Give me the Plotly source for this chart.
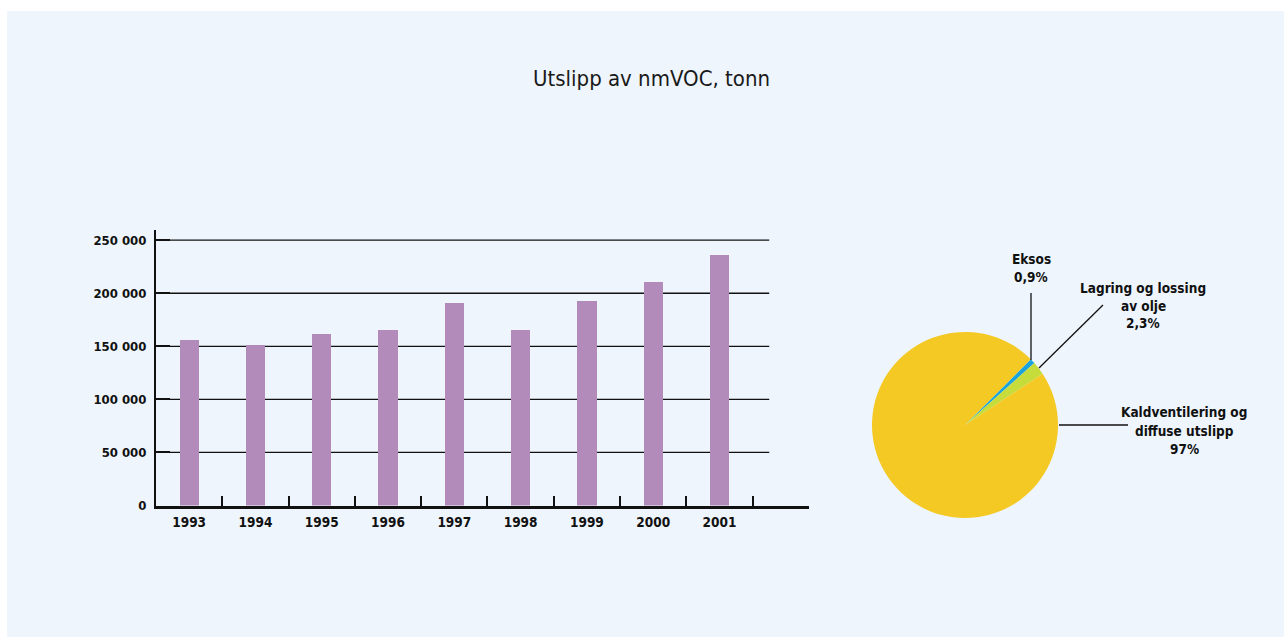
import plotly.graph_objects as go

# --- data -------------------------------------------------------------
years = ["1993", "1994", "1995", "1996", "1997", "1998", "1999", "2000", "2001"]
emissions_t = [156000, 151000, 162000, 165000, 191000, 165000, 193000, 211000, 236000]

y_tick_values = [0, 50000, 100000, 150000, 200000, 250000]
y_tick_labels = ["0", "50 000", "100 000", "150 000", "200 000", "250 000"]

source_names = ["Eksos", "Lagring og lossing av olje", "Kaldventilering og diffuse utslipp"]
source_share = [0.9, 2.3, 97.0]
source_labels = [["Eksos", "0,9%"], ["Lagring og lossing", "av olje", "2,3%"],
                 ["Kaldventilering og", "diffuse utslipp", "97%"]]

# --- layout helpers (pixel -> paper fraction) ---------------------------
W, H = 1284, 637


def xp(px):
    return px / W


def yp(py):
    return 1 - py / H


BOLD = "DejaVu Sans Condensed, Liberation Sans Narrow, Arial Narrow, sans-serif"
PLAIN = "DejaVu Sans Condensed, Liberation Sans Narrow, sans-serif"
PANEL = "#eef5fc"
BAR = "#b28bbb"
PIE_COLORS = ["#1aa3dc", "#c6dc3a", "#f4c924"]
INK = "#111111"

fig = go.Figure()

xs = list(range(len(years)))
fig.add_trace(go.Bar(
    x=xs, y=emissions_t, width=0.29,
    marker=dict(color=BAR, line=dict(width=0)),
    hoverinfo="skip", showlegend=False,
))

fig.add_trace(go.Pie(
    labels=source_names, values=source_share, sort=False,
    direction="clockwise", rotation=45,
    marker=dict(colors=PIE_COLORS, line=dict(width=0)),
    textinfo="none", hoverinfo="skip", showlegend=False,
    domain=dict(x=[xp(872), xp(1058)], y=[yp(518), yp(332)]),
))

shapes = []
# light panel behind everything
shapes.append(dict(type="rect", xref="paper", yref="paper", layer="below",
                   x0=xp(7), x1=1, y0=0, y1=yp(11),
                   fillcolor=PANEL, line=dict(width=0)))
# horizontal grid lines (stop short of the axis line end)
for v in y_tick_values[1:]:
    shapes.append(dict(type="line", xref="x", yref="y", layer="below",
                       x0=-0.5, x1=8.75, y0=v, y1=v,
                       line=dict(color=INK, width=1.3)))

# pie leader lines
leaders = [
    ((1031, 293), (1031, 360)),
    ((1103, 305), (1039, 368)),
    ((1059, 425), (1128, 425)),
]
for (x0, y0), (x1, y1) in leaders:
    shapes.append(dict(type="line", xref="paper", yref="paper",
                       x0=xp(x0), y0=yp(y0), x1=xp(x1), y1=yp(y1),
                       line=dict(color=INK, width=1.3)))

annotations = [dict(
    text="Utslipp av nmVOC, tonn", xref="paper", yref="paper",
    x=xp(651), y=yp(78), xanchor="center", yanchor="middle", showarrow=False,
    font=dict(family=PLAIN, size=22, color="#1a1a1a"),
)]

label_pos = [(1031, [259, 276.5]), (1143, [288, 305.5, 323]), (1184, [412, 431, 449])]
for lines, (lx, lys) in zip(source_labels, label_pos):
    for txt, ly in zip(lines, lys):
        annotations.append(dict(
            text="<b>%s</b>" % txt, xref="paper", yref="paper",
            x=xp(lx), y=yp(ly), xanchor="center", yanchor="middle",
            showarrow=False, font=dict(family=BOLD, size=13.5, color=INK),
        ))

fig.update_layout(
    width=W, height=H,
    margin=dict(l=0, r=0, t=0, b=0, pad=0, autoexpand=False),
    paper_bgcolor="white", plot_bgcolor="rgba(0,0,0,0)",
    shapes=shapes, annotations=annotations,
    bargap=0,
    xaxis=dict(
        domain=[xp(156), xp(809)], range=[-0.5, 9.35], automargin=False,
        showline=True, linecolor=INK, linewidth=2.5,
        showgrid=False, zeroline=False, fixedrange=True,
        tickmode="array", tickvals=xs, ticktext=["<b>%s</b>" % y for y in years],
        ticks="", ticklabelstandoff=3,
        tickfont=dict(family=BOLD, size=13.5, color=INK),
        minor=dict(tickmode="array", tickvals=[i + 0.5 for i in xs],
                   ticks="inside", ticklen=10, tickwidth=1.6, tickcolor=INK,
                   showgrid=False),
    ),
    yaxis=dict(
        domain=[yp(505.5), yp(230)], range=[0, 259600], automargin=False,
        showline=True, linecolor=INK, linewidth=2,
        showgrid=False, zeroline=False, fixedrange=True,
        tickmode="array", tickvals=y_tick_values,
        ticktext=["<b>%s</b>" % t for t in y_tick_labels],
        ticks="inside", ticklen=14, tickwidth=1.6, tickcolor=INK,
        ticklabelstandoff=5,
        tickfont=dict(family=BOLD, size=13, color=INK),
    ),
)

fig.write_html("out.html")
